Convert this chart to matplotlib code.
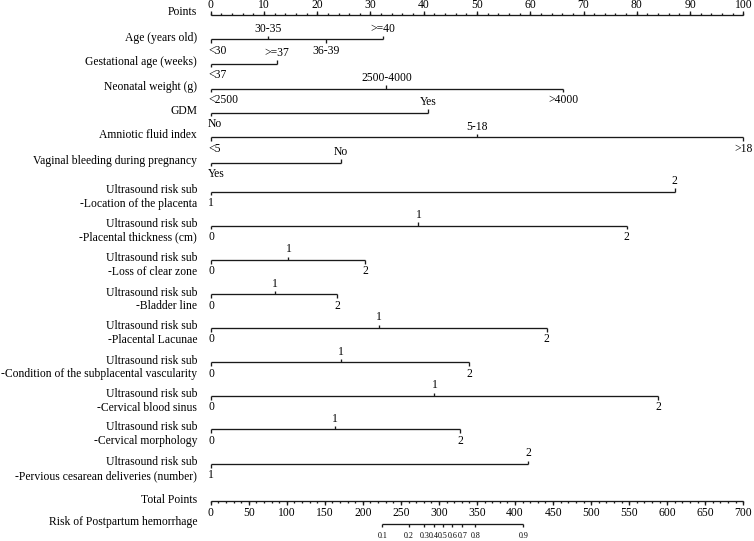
import matplotlib
matplotlib.use("Agg")
import matplotlib.pyplot as plt

plt.rcParams['font.family'] = ['Liberation Serif', 'DejaVu Serif']

# ---------------- data ----------------
points_major = list(range(0, 101, 10))
points_minor = list(range(0, 101, 2))

row_names = [
    "Age (years old)",
    "Gestational age (weeks)",
    "Neonatal weight (g)",
    "GDM",
    "Amniotic fluid index",
    "Vaginal bleeding during pregnancy",
]
age_labels = ["<30", "30-35", "36-39", ">=40"]
age_points = [0, 10.8, 21.7, 32.4]
gest_labels = ["<37", ">=37"]
gest_points = [0, 12.5]
weight_labels = ["<2500", "2500-4000", ">4000"]
weight_points = [0, 33.0, 66.2]
gdm_labels = ["No", "Yes"]
gdm_points = [0, 40.8]
afi_labels = ["<5", "5-18", ">18"]
afi_points = [0, 50.0, 100.0]
bleed_labels = ["Yes", "No"]
bleed_points = [0, 24.5]

us_names = [
    "-Location of the placenta",
    "-Placental thickness (cm)",
    "-Loss of clear zone",
    "-Bladder line",
    "-Placental Lacunae",
    "-Condition of the subplacental vascularity",
    "-Cervical blood sinus",
    "-Cervical morphology",
    "-Pervious cesarean deliveries (number)",
]
location_labels = ["1", "2"]
location_points = [0, 87.1]
thickness_labels = ["0", "1", "2"]
thickness_points = [0, 39.0, 78.1]
loss_labels = ["0", "1", "2"]
loss_points = [0, 14.6, 29.0]
bladder_labels = ["0", "1", "2"]
bladder_points = [0, 12.0, 23.7]
lacunae_labels = ["0", "1", "2"]
lacunae_points = [0, 31.6, 63.1]
vascular_labels = ["0", "1", "2"]
vascular_points = [0, 24.4, 48.5]
sinus_labels = ["0", "1", "2"]
sinus_points = [0, 42.0, 84.0]
morph_labels = ["0", "1", "2"]
morph_points = [0, 23.4, 46.8]
cesarean_labels = ["1", "2"]
cesarean_points = [0, 59.6]

total_major = list(range(0, 701, 50))
total_minor = list(range(0, 701, 10))
total_max = 700

risk_labels = ["0.1", "0.2", "0.3", "0.4", "0.5", "0.6", "0.7", "0.8", "0.9"]
risk_total_points = [225.5, 260.2, 280.7, 293.5, 305.3, 317.5, 330.7, 347.8, 410.9]

# ---------------- layout ----------------
W, H = 754, 541
fig = plt.figure(figsize=(W / 100, H / 100), dpi=100)
ax = fig.add_axes([0, 0, 1, 1])
px0, px100 = 210.7, 743.3          # pixel x of 0 and 100 points
ppx = (px100 - px0) / 100.0
ax.set_xlim(-px0 / ppx, (W - px0) / ppx)
ax.set_ylim(H, 0)
ax.axis('off')

LW = 0.95
COL = '#1a1a1a'
FS = 8.4
LABEL_X = (197 - px0) / ppx
dx = 1.0 / ppx  # one pixel in points units


def axis_line(y, x0, x1):
    ax.plot([x0, x1], [y, y], color=COL, lw=LW, solid_capstyle='butt')


def tick(x, y, length):
    ax.plot([x, x], [y, y + length], color=COL, lw=LW, solid_capstyle='butt')


# Points axis
py = 15
ax.text(LABEL_X, py - 3, "Points", ha='right', va='center', fontsize=FS)
axis_line(py, points_major[0], points_major[-1])
for v in points_minor:
    tick(v, py, -1.8)
for v in points_major:
    tick(v, py, -3.8)
    ax.text(v, py - 10, str(v), ha='center', va='center', fontsize=FS)


def variable_row(y, labels, pts, start_below=True):
    axis_line(y, min(pts), max(pts))
    for i, (lab, v) in enumerate(zip(labels, pts)):
        below = (i % 2 == 0) == start_below
        if below:
            tick(v, y, 3.5)
            ty = y + 11.5
        else:
            tick(v, y, -3.5)
            ty = y - 10.5
        if i == 0:
            ax.text(v - 2.5 * dx, ty, lab, ha='left', va='center', fontsize=FS)
        else:
            ax.text(v, ty, lab, ha='center', va='center', fontsize=FS)


single_y = [39.3, 63.7, 88.7, 112.7, 137.3, 162.7]
single_data = [
    (age_labels, age_points),
    (gest_labels, gest_points),
    (weight_labels, weight_points),
    (gdm_labels, gdm_points),
    (afi_labels, afi_points),
    (bleed_labels, bleed_points),
]
for y, name, (labs, pts) in zip(single_y, row_names, single_data):
    ax.text(LABEL_X, y - 1.8, name, ha='right', va='center', fontsize=FS)
    variable_row(y, labs, pts)

us_y = [191.7, 225.7, 260.0, 294.3, 328.0, 362.3, 396.0, 429.3, 464.0]
us_data = [
    (location_labels, location_points),
    (thickness_labels, thickness_points),
    (loss_labels, loss_points),
    (bladder_labels, bladder_points),
    (lacunae_labels, lacunae_points),
    (vascular_labels, vascular_points),
    (sinus_labels, sinus_points),
    (morph_labels, morph_points),
    (cesarean_labels, cesarean_points),
]
for y, name, (labs, pts) in zip(us_y, us_names, us_data):
    ax.text(LABEL_X, y - 1.8, "Ultrasound risk sub", ha='right', va='center', fontsize=FS)
    ax.text(LABEL_X, y + 11.8, name, ha='right', va='center', fontsize=FS)
    variable_row(y, labs, pts)

# Total points axis
ty_ = 501.3
scale = 100.0 / total_max
ax.text(LABEL_X, ty_ - 1.5, "Total Points", ha='right', va='center', fontsize=FS)
axis_line(ty_, total_major[0] * scale, total_major[-1] * scale)
for v in total_minor:
    tick(v * scale, ty_, 1.8)
for v in total_major:
    tick(v * scale, ty_, 3.8)
    ax.text(v * scale, ty_ + 11.5, str(v), ha='center', va='center', fontsize=FS)

# Risk axis
ry = 523.5
ax.text(LABEL_X, ry - 2, "Risk of Postpartum hemorrhage", ha='right', va='center', fontsize=FS)
axis_line(ry, risk_total_points[0] * scale, risk_total_points[-1] * scale)
for lab, tp in zip(risk_labels, risk_total_points):
    tick(tp * scale, ry, 3.5)
    ax.text(tp * scale, ry + 12, lab, ha='center', va='center', fontsize=5.8)

fig.savefig("out.png", dpi=100, facecolor='white')
